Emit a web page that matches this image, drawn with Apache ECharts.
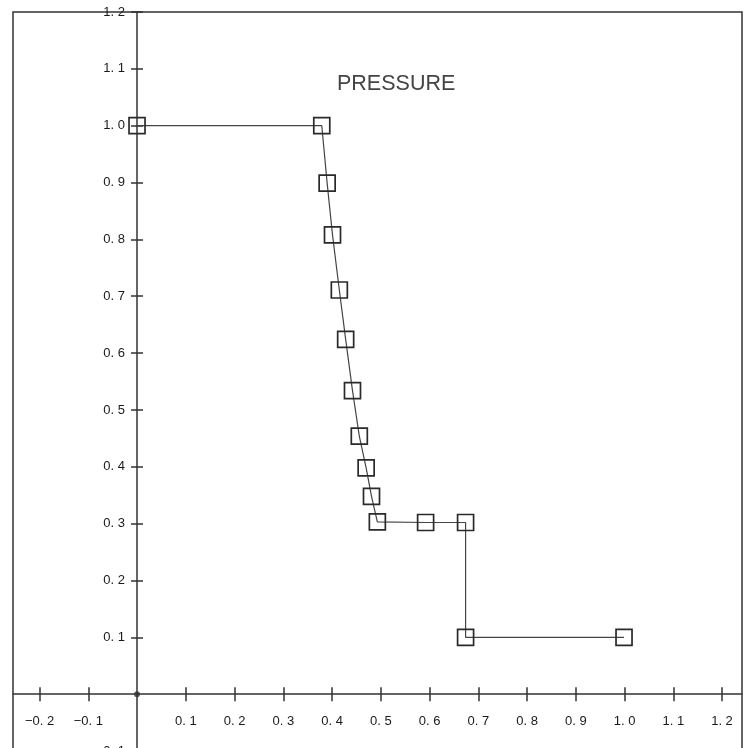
<!DOCTYPE html>
<html>
<head>
<meta charset="utf-8">
<title>PRESSURE</title>
<script src="https://cdn.jsdelivr.net/npm/echarts@6/dist/echarts.min.js"></script>
<style>
  html, body { margin: 0; padding: 0; background: #fff; }
  #chart { width: 749px; height: 748px; }
</style>
</head>
<body>
<div id="chart"></div>
<script>
// Pressure profile samples (position, pressure)
const positions = [0, 0.379, 0.390, 0.401, 0.415, 0.428, 0.442, 0.456, 0.470, 0.481, 0.493, 0.592, 0.674, 0.674, 0.999];
const pressures = [1.0, 1.0, 0.899, 0.808, 0.711, 0.624, 0.534, 0.454, 0.398, 0.348, 0.303, 0.302, 0.302, 0.1, 0.1];

// Tick positions along each axis (no tick at the origin)
const xTicks = [-0.2, -0.1, 0.1, 0.2, 0.3, 0.4, 0.5, 0.6, 0.7, 0.8, 0.9, 1.0, 1.1, 1.2];
const yTicks = [-0.1, 0.1, 0.2, 0.3, 0.4, 0.5, 0.6, 0.7, 0.8, 0.9, 1.0, 1.1, 1.2];

// Dot marking where the axes cross
const origin = [[0, 0]];

const titleText = 'PRESSURE';

const FONT = '"Liberation Sans", Arial, sans-serif';
const INK = '#333';

// Plotter-style labels: "0. 1", "−0. 2"
function tickLabel(v) {
  return Number(v).toFixed(1).replace('.', '. ').replace('-', '\u2212');
}

const chart = echarts.init(document.getElementById('chart'), null, { renderer: 'canvas' });

const xRange = { min: -0.2544, max: 1.241 };
const yRange = { min: -0.1, max: 1.2 };
const GRID = { left: 13, right: 7, top: 12, bottom: -3 };

// Build the pair of axes for one dimension: the first carries the line,
// outward ticks and labels; the second adds the inward half of each tick.
function axisPair(range, ticks, tickLen, margin, position, offset) {
  const tickStyle = { color: INK, width: 1.5 };
  return [
    {
      type: 'value', position: position, offset: offset,
      min: range.min, max: range.max,
      axisLine: { show: true, onZero: false, lineStyle: { color: INK, width: 1.5 } },
      axisTick: { show: true, inside: false, length: tickLen, customValues: ticks, lineStyle: tickStyle },
      axisLabel: {
        show: true, customValues: ticks, margin: margin,
        formatter: tickLabel,
        fontFamily: FONT, fontSize: 13, color: '#1a1a1a'
      },
      splitLine: { show: false }
    },
    {
      type: 'value', position: position, offset: offset,
      min: range.min, max: range.max,
      axisLine: { show: false, onZero: false },
      axisTick: { show: true, inside: true, length: tickLen, customValues: ticks, lineStyle: tickStyle },
      axisLabel: { show: false },
      splitLine: { show: false }
    }
  ];
}

function buildOption(xOffset, yOffset) {
  return {
    animation: false,
    backgroundColor: '#fff',
    title: {
      text: titleText,
      left: 337,
      top: 73,
      padding: 0,
      textStyle: { fontFamily: FONT, fontSize: 21.5, fontWeight: 'normal', color: '#444' }
    },
    grid: {
      left: GRID.left, right: GRID.right, top: GRID.top, bottom: GRID.bottom,
      containLabel: false,
      outerBoundsMode: 'none',
      show: true,
      borderColor: INK,
      borderWidth: 1.5,
      backgroundColor: 'transparent'
    },
    xAxis: axisPair(xRange, xTicks, 7, 21, 'bottom', xOffset),
    yAxis: axisPair(yRange, yTicks, 6, 12, 'left', yOffset),
    series: [
      {
        name: titleText,
        type: 'line',
        xAxisIndex: 0, yAxisIndex: 0,
        data: positions.map((x, i) => [x, pressures[i]]),
        symbol: 'rect',
        symbolSize: 16,
        showAllSymbol: true,
        lineStyle: { color: '#444', width: 1.2 },
        itemStyle: { color: 'rgba(0,0,0,0)', borderColor: '#2a2a2a', borderWidth: 1.7 },
        z: 3
      },
      {
        type: 'scatter',
        xAxisIndex: 0, yAxisIndex: 0,
        data: origin,
        symbol: 'circle',
        symbolSize: 6,
        itemStyle: { color: INK },
        silent: true,
        z: 4
      }
    ]
  };
}

// First pass lays out the grid; the axes are then shifted so they cross at (0, 0).
chart.setOption(buildOption(0, 0));
const zeroPx = chart.convertToPixel({ xAxisIndex: 0, yAxisIndex: 0 }, [0, 0]);
const H = chart.getHeight();
const gridBottomPx = H - GRID.bottom;
const xOffset = -(gridBottomPx - zeroPx[1]);
const yOffset = -(zeroPx[0] - GRID.left);
chart.setOption(buildOption(xOffset, yOffset), { notMerge: true });
</script>
</body>
</html>
